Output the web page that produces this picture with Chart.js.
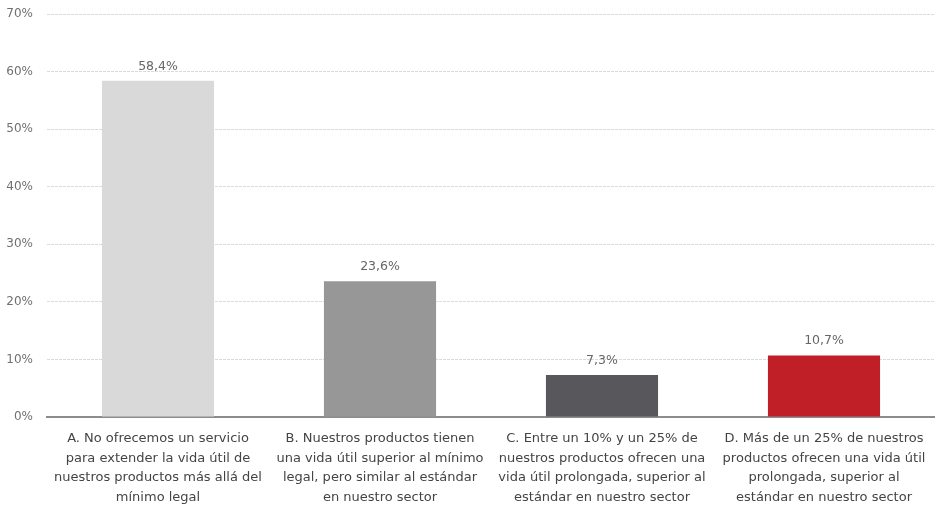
<!DOCTYPE html>
<html>
<head>
<meta charset="utf-8">
<script src="https://cdn.jsdelivr.net/npm/chart.js@4"></script>
<style>
  html, body { margin: 0; padding: 0; background: #fff; }
  #wrap { width: 935px; height: 506px; }
</style>
</head>
<body>
<div id="wrap"><canvas id="myChart"></canvas></div>
<script>
var categories = [
    ['A. No ofrecemos un servicio', 'para extender la vida útil de', 'nuestros productos más allá del', 'mínimo legal'],
    ['B. Nuestros productos tienen', 'una vida útil superior al mínimo', 'legal, pero similar al estándar', 'en nuestro sector'],
    ['C. Entre un 10% y un 25% de', 'nuestros productos ofrecen una', 'vida útil prolongada, superior al', 'estándar en nuestro sector'],
    ['D. Más de un 25% de nuestros', 'productos ofrecen una vida útil', 'prolongada, superior al', 'estándar en nuestro sector']
];
var values = [58.4, 23.6, 7.3, 10.7];
var valueLabels = ['58,4%', '23,6%', '7,3%', '10,7%'];
var barColors = ['#d9d9d9', '#979797', '#58575c', '#c01f27'];
var yTicks = [0, 10, 20, 30, 40, 50, 60, 70];

var FONT = '"DejaVu Sans", "Liberation Sans", sans-serif';

// etiquetas encima de las barras
var valueLabelPlugin = {
    id: 'valueLabels',
    afterDatasetsDraw: function (chart) {
        var ctx = chart.ctx;
        var meta = chart.getDatasetMeta(0);
        ctx.save();
        ctx.font = '12.5px ' + FONT;
        ctx.fillStyle = '#666';
        ctx.textAlign = 'center';
        ctx.textBaseline = 'bottom';
        meta.data.forEach(function (bar, i) {
            ctx.fillText(valueLabels[i], bar.x, bar.y - 8);
        });
        ctx.restore();
    }
};

var chartElement = document.getElementById('myChart').getContext('2d');
var barChart = new Chart(chartElement, {
    type: 'bar',
    data: {
        labels: categories,
        datasets: [{
            data: values,
            backgroundColor: barColors,
            borderWidth: 0,
            barPercentage: 0.505,
            categoryPercentage: 1.0
        }]
    },
    options: {
        responsive: true,
        maintainAspectRatio: false,
        animation: false,
        plugins: {
            legend: { display: false },
            tooltip: { enabled: false }
        },
        layout: {
            padding: { left: 0, right: 0, top: 0, bottom: 2 }
        },
        scales: {
            x: {
                afterFit: function (axis) {
                    axis.height = 87;
                    axis.paddingLeft = 0;
                    axis.paddingRight = 0;
                },
                grid: { display: false, drawTicks: false },
                border: { display: true, color: '#8c8c8c', width: 2 },
                ticks: {
                    color: '#444',
                    font: { family: FONT, size: 13, lineHeight: 1.5 },
                    padding: 12,
                    maxRotation: 0,
                    autoSkip: false
                }
            },
            y: {
                min: 0,
                max: 70,
                afterFit: function (axis) {
                    axis.width = 47;
                    axis.paddingTop = 14;
                },
                afterBuildTicks: function (axis) {
                    axis.ticks = yTicks.map(function (v) { return { value: v }; });
                },
                grid: {
                    drawTicks: false,
                    color: function (c) { return c.tick && c.tick.value === 0 ? 'rgba(0,0,0,0)' : '#dadada'; },
                    lineWidth: 1
                },
                border: { display: false, dash: [3, 1] },
                ticks: {
                    color: '#707070',
                    font: { family: FONT, size: 12 },
                    padding: 14,
                    callback: function (v) { return v + '%'; }
                }
            }
        }
    },
    plugins: [valueLabelPlugin]
});
</script>
</body>
</html>
